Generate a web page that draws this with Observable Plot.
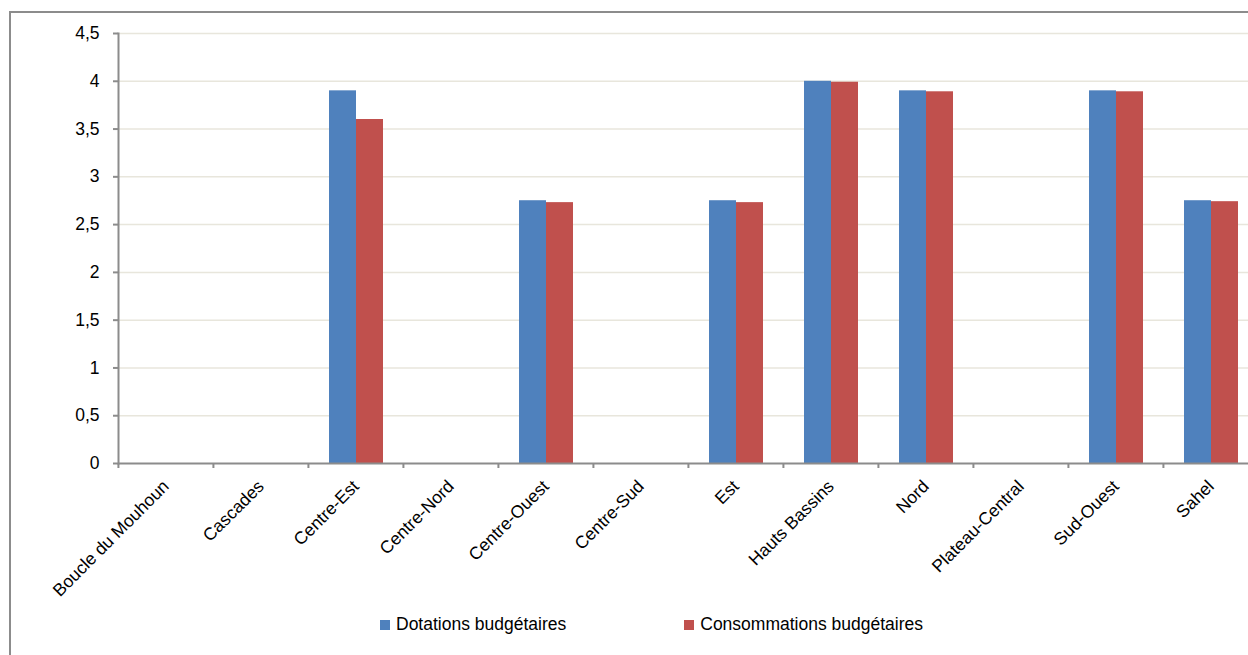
<!DOCTYPE html>
<html>
<head>
<meta charset="utf-8">
<script src="https://cdn.jsdelivr.net/npm/d3@7"></script>
<script src="https://cdn.jsdelivr.net/npm/@observablehq/plot@0.6"></script>
<style>
  html, body { margin: 0; padding: 0; background: #fff; overflow: hidden; }
  body { width: 1248px; height: 655px; position: relative; font-family: "Liberation Sans", Arial, sans-serif; }
  #frame { position: absolute; left: 9px; top: 11px; width: 1320px; height: 720px; border: 2px solid #8c8c8c; box-sizing: border-box; }
  #chart { position: absolute; left: 0; top: 0; width: 1262px; }
  #chart svg { max-width: none !important; }
  #legend { position: absolute; left: 380px; top: 614px; display: flex; align-items: center; font-size: 17.5px; color: #000; }
  #legend .item { display: flex; align-items: center; }
  #legend .item + .item { margin-left: 118px; }
  #legend .swatch { width: 10px; height: 10px; margin-right: 6px; }
</style>
</head>
<body>
<div id="frame"></div>
<div id="chart"></div>
<div id="legend"></div>
<script>
// Régions et montants (dotations vs consommations budgétaires)
const regions = [
  "Boucle du Mouhoun", "Cascades", "Centre-Est", "Centre-Nord", "Centre-Ouest", "Centre-Sud",
  "Est", "Hauts Bassins", "Nord", "Plateau-Central", "Sud-Ouest", "Sahel"
];
const dotations     = [0, 0, 3.90, 0, 2.75, 0, 2.75, 4.00, 3.90, 0, 3.90, 2.75];
const consommations = [0, 0, 3.60, 0, 2.73, 0, 2.73, 3.99, 3.89, 0, 3.89, 2.74];
const seriesNames = ["Dotations budgétaires", "Consommations budgétaires"];
const seriesColors = ["#4F81BD", "#C0504D"];
const yTicks = [0, 0.5, 1, 1.5, 2, 2.5, 3, 3.5, 4, 4.5];

const rows = regions.flatMap((region, i) => [
  {region, series: seriesNames[0], value: dotations[i]},
  {region, series: seriesNames[1], value: consommations[i]}
]);

const W = 1262, H = 600;
const mL = 117, mR = 3, mT = 33, mB = 137;
const step = (W - mL - mR) / regions.length;
const axisColor = "#8c8c8c";
const gridColor = "#e8e6dc";
const font = "Liberation Sans, Arial, sans-serif";

const chart = Plot.plot({
  width: W,
  height: H,
  marginLeft: mL,
  marginRight: mR,
  marginTop: mT,
  marginBottom: mB,
  style: {fontFamily: font, fontSize: "17.5px", color: "#000", background: "transparent", overflow: "visible", maxWidth: "none"},
  fx: {domain: regions, padding: 0, label: null, axis: null},
  x: {domain: seriesNames, paddingInner: 0, paddingOuter: 0.73, axis: null},
  y: {domain: [0, 4.5], label: null},
  color: {domain: seriesNames, range: seriesColors},
  marks: [
    Plot.gridY(yTicks.filter(d => d > 0), {stroke: gridColor, strokeOpacity: 1, strokeWidth: 1.5}),
    Plot.barY(rows, {fx: "region", x: "series", y: "value", fill: "series"}),
    Plot.ruleY([0], {stroke: axisColor, strokeWidth: 2}),
    Plot.frame({anchor: "left", facetAnchor: "left", stroke: axisColor, strokeWidth: 2}),
    Plot.axisY({
      ticks: yTicks,
      tickFormat: d => String(d).replace(".", ","),
      tickSize: 5,
      tickPadding: 14,
      stroke: axisColor,
      strokeWidth: 2,
      fontSize: 17.5,
      label: null
    }),
    // tick marks between regions
    Plot.axisFx({
      anchor: "bottom",
      tickSize: 5,
      tickFormat: () => "",
      dx: -step / 2,
      stroke: axisColor,
      strokeWidth: 2,
      label: null
    }),
    Plot.axisFx({
      anchor: "bottom",
      tickSize: 0,
      tickRotate: -45,
      tickPadding: 20,
      fontSize: 17.5,
      label: null
    })
  ]
});
document.getElementById("chart").appendChild(chart);

const legend = document.getElementById("legend");
seriesNames.forEach((name, i) => {
  const item = document.createElement("div");
  item.className = "item";
  const sw = document.createElement("span");
  sw.className = "swatch";
  sw.style.background = seriesColors[i];
  const label = document.createElement("span");
  label.textContent = name;
  item.append(sw, label);
  legend.appendChild(item);
});
</script>
</body>
</html>
